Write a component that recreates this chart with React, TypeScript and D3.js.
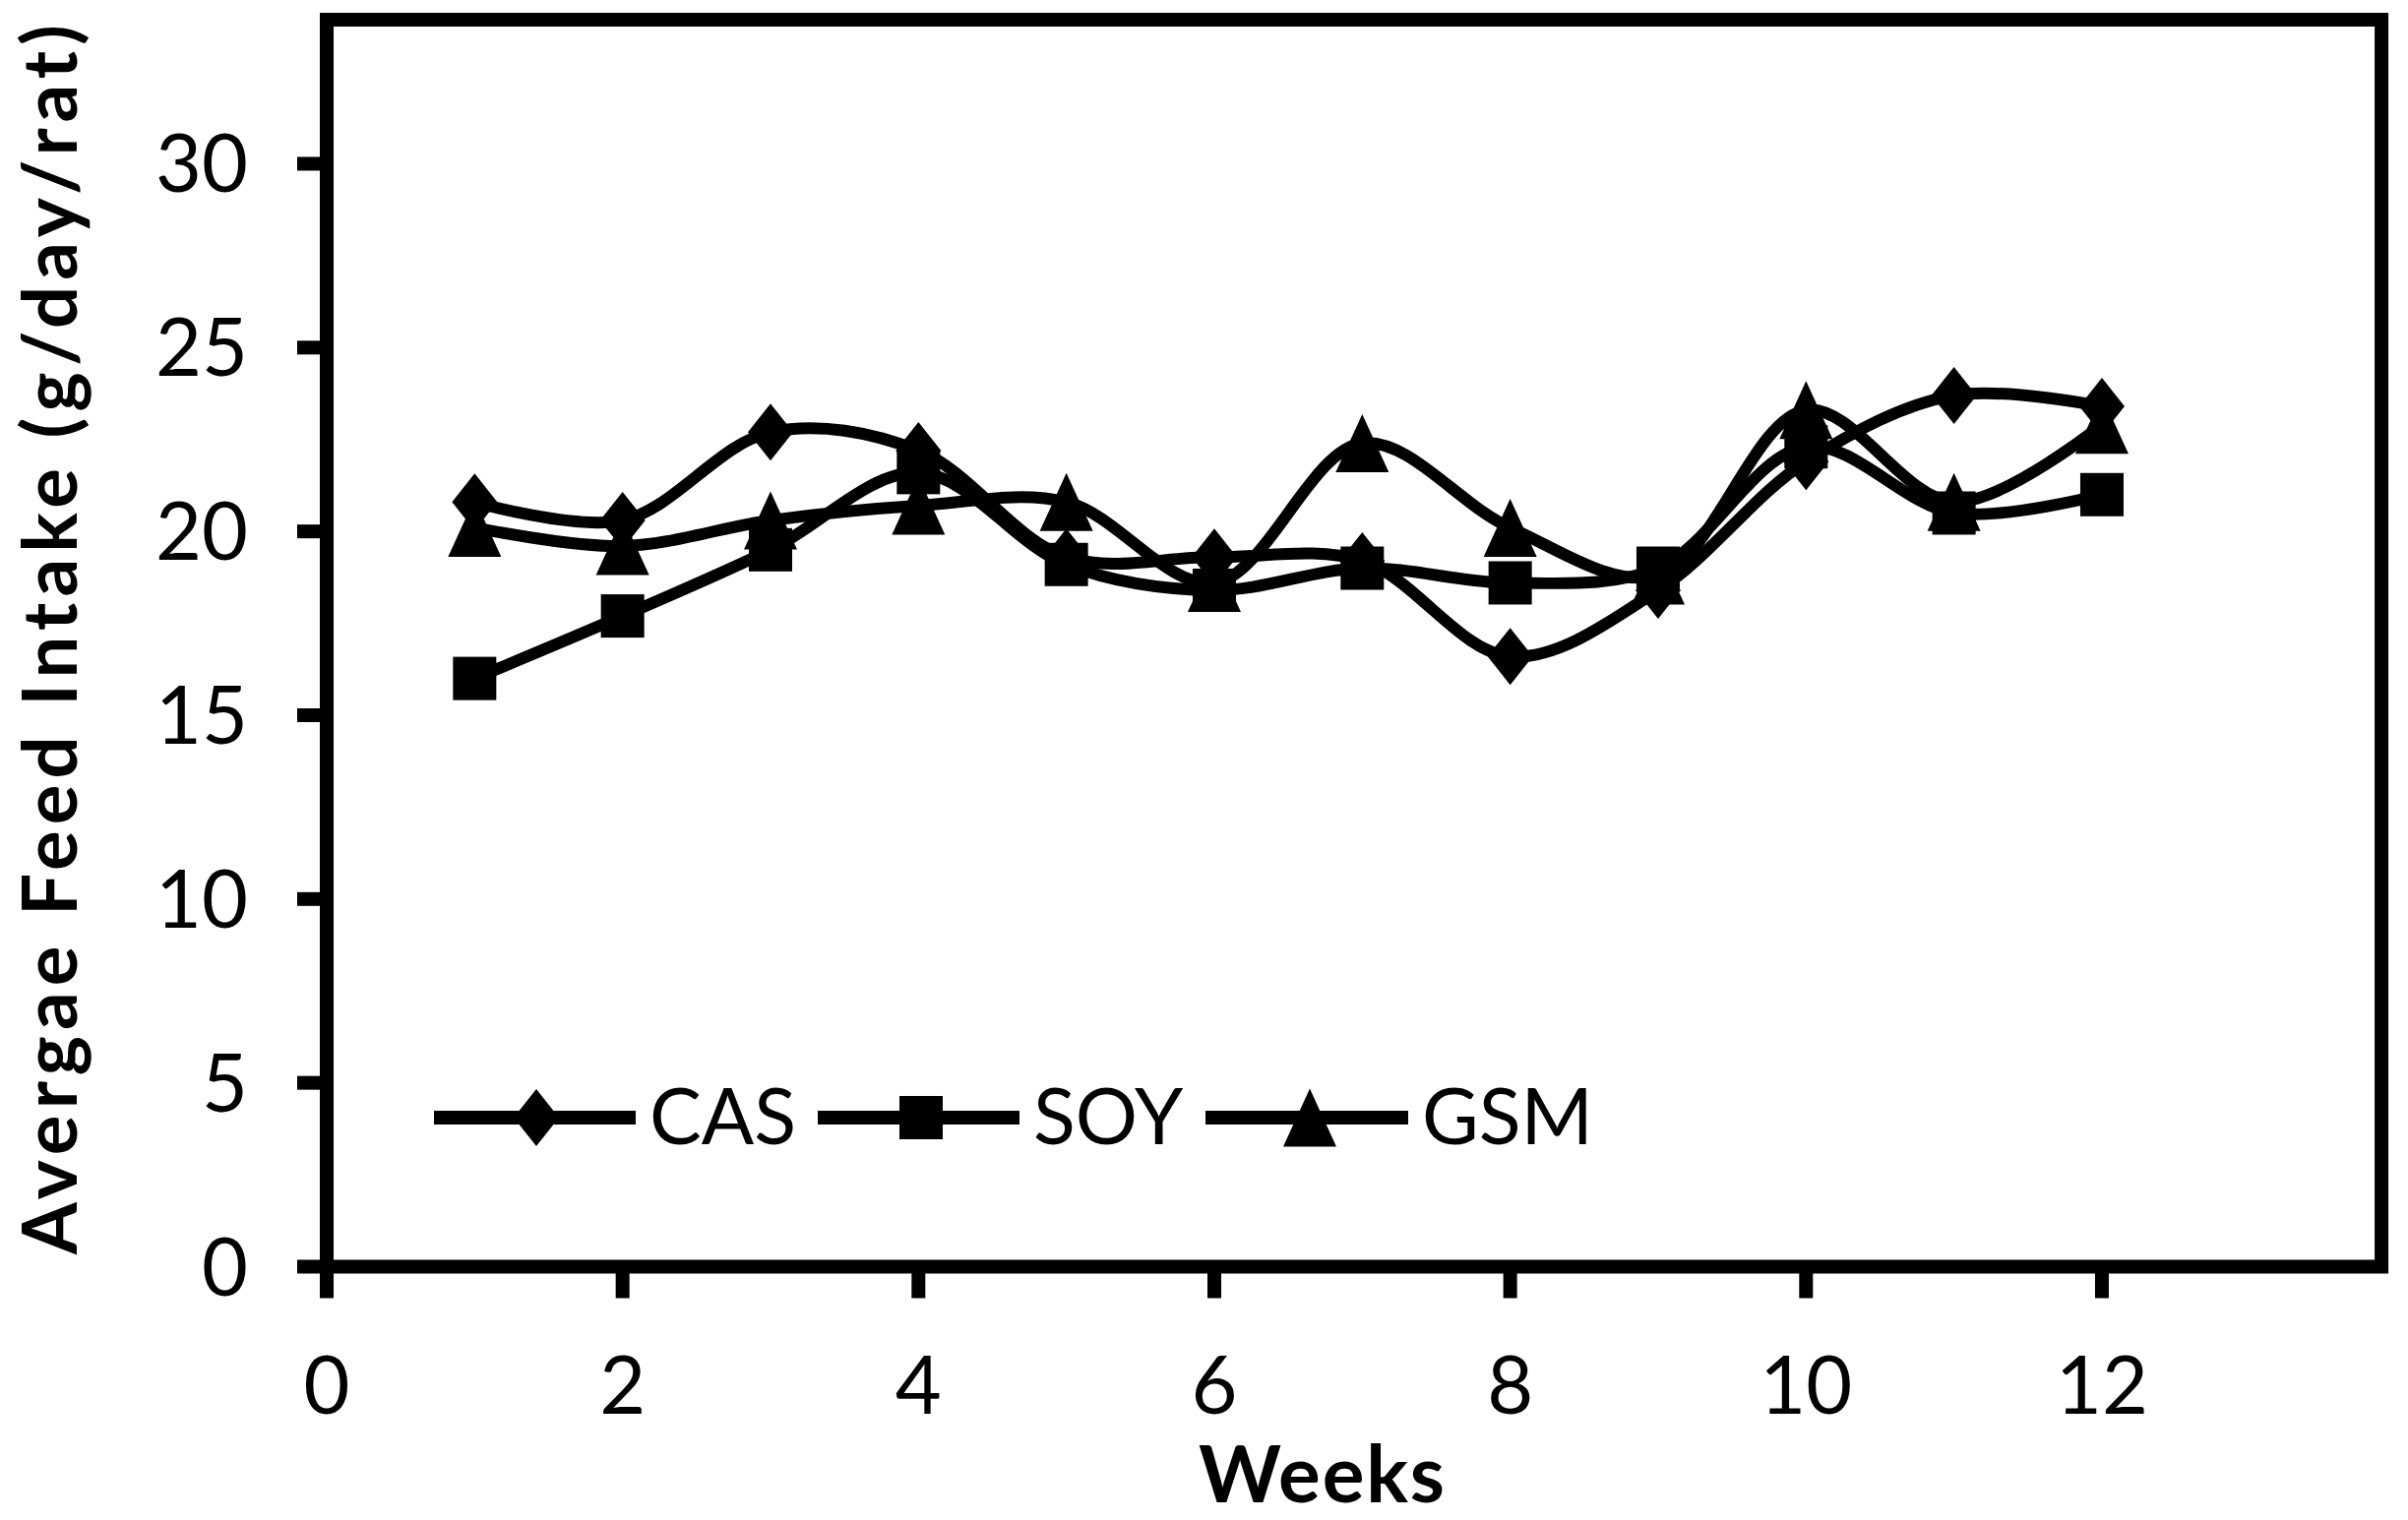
import React from "react";
import * as d3 from "d3";

const weeks = [1, 2, 3, 4, 5, 6, 7, 8, 9, 10, 11, 12];
const cas = [20.8, 20.3, 22.7, 22.2, 19.3, 19.3, 19.2, 16.6, 18.4, 21.9, 23.7, 23.4];
const soy = [16.0, 17.7, 19.5, 21.6, 19.1, 18.4, 19.0, 18.6, 19.0, 22.3, 20.5, 21.0];
const gsm = [20.1, 19.6, 20.3, 20.7, 20.8, 18.6, 22.4, 20.1, 18.8, 23.3, 20.8, 22.9];
const xTicks = [0, 2, 4, 6, 8, 10, 12];
const yTicks = [0, 5, 10, 15, 20, 25, 30];
const seriesNames = ["CAS", "SOY", "GSM"];
const markerKinds = ["diamond", "square", "triangle"];

const W = 2447;
const H = 1545;
const left = 332;
const top = 20;
const bottom = 1287.5;
const unitX = 150.33;
const xMax = 13.89;
const yMax = 33.92;
const FONT = "Lato, 'Open Sans', sans-serif";

const x = d3.scaleLinear().domain([0, xMax]).range([left, left + xMax * unitX]);
const y = d3.scaleLinear().domain([0, yMax]).range([bottom, top]);

function Marker({ kind, cx, cy }: { kind: string; cx: number; cy: number }) {
  if (kind === "diamond") {
    const w = 23, h = 29;
    return <polygon points={`${cx},${cy - h} ${cx + w},${cy} ${cx},${cy + h} ${cx - w},${cy}`} fill="#000" />;
  }
  if (kind === "square") {
    const s = 22;
    return <rect x={cx - s} y={cy - s} width={2 * s} height={2 * s} fill="#000" />;
  }
  const w = 27, h = 29.5;
  return <polygon points={`${cx},${cy - h} ${cx + w},${cy + h} ${cx - w},${cy + h}`} fill="#000" />;
}

export default function App() {
  const series = [cas, soy, gsm];
  const line = d3
    .line<number>()
    .x((_, i) => x(weeks[i]))
    .y((d) => y(d))
    .curve(d3.curveCatmullRom.alpha(0.5));

  const legendItems = [
    { lx1: 441, lx2: 646, mx: 545, tx: 660 },
    { lx1: 831, lx2: 1036, mx: 936, tx: 1050 },
    { lx1: 1225, lx2: 1431, mx: 1331, tx: 1445 },
  ];
  const legendY = 1136;

  return (
    <svg
      width={W}
      height={H}
      viewBox={`0 0 ${W} ${H}`}
      style={{ position: "absolute", left: 0, top: 0, background: "#fff" }}
    >
      <rect x={0} y={0} width={W} height={H} fill="#fff" />
      <rect
        x={x(0)}
        y={y(yMax)}
        width={x(xMax) - x(0)}
        height={y(0) - y(yMax)}
        fill="none"
        stroke="#000"
        strokeWidth={14}
      />
      {yTicks.map((t) => (
        <g key={"y" + t}>
          <line x1={x(0) - 30} x2={x(0)} y1={y(t)} y2={y(t)} stroke="#000" strokeWidth={14} />
          <text x={252} y={y(t) + 29} textAnchor="end" fontFamily={FONT} fontSize={81} fill="#000">
            {t}
          </text>
        </g>
      ))}
      {xTicks.map((t) => (
        <g key={"x" + t}>
          <line x1={x(t)} x2={x(t)} y1={y(0)} y2={y(0) + 32} stroke="#000" strokeWidth={14} />
          <text x={x(t)} y={1437} textAnchor="middle" fontFamily={FONT} fontSize={81} fill="#000">
            {t}
          </text>
        </g>
      ))}
      {series.map((vals, si) => (
        <g key={"s" + si}>
          <path d={line(vals) || ""} fill="none" stroke="#000" strokeWidth={12} strokeLinejoin="round" />
          {vals.map((v, i) => (
            <Marker key={i} kind={markerKinds[si]} cx={x(weeks[i])} cy={y(v)} />
          ))}
        </g>
      ))}
      {legendItems.map((it, i) => (
        <g key={"l" + i}>
          <line x1={it.lx1} x2={it.lx2} y1={legendY} y2={legendY} stroke="#000" strokeWidth={14} />
          <Marker kind={markerKinds[i]} cx={it.mx} cy={legendY} />
          <text x={it.tx} y={1163} fontFamily={FONT} fontSize={79} fill="#000">
            {seriesNames[i]}
          </text>
        </g>
      ))}
      <text
        x={1343}
        y={1527}
        textAnchor="middle"
        fontFamily={FONT}
        fontWeight="bold"
        fontSize={80}
        textLength={250}
        lengthAdjust="spacing"
        fill="#000"
      >
        Weeks
      </text>
      <text
        transform="translate(78,650) rotate(-90)"
        textAnchor="middle"
        fontFamily={FONT}
        fontWeight="bold"
        fontSize={76}
        textLength={1250}
        lengthAdjust="spacing"
        fill="#000"
      >
        Avergae Feed Intake (g/day/rat)
      </text>
    </svg>
  );
}
